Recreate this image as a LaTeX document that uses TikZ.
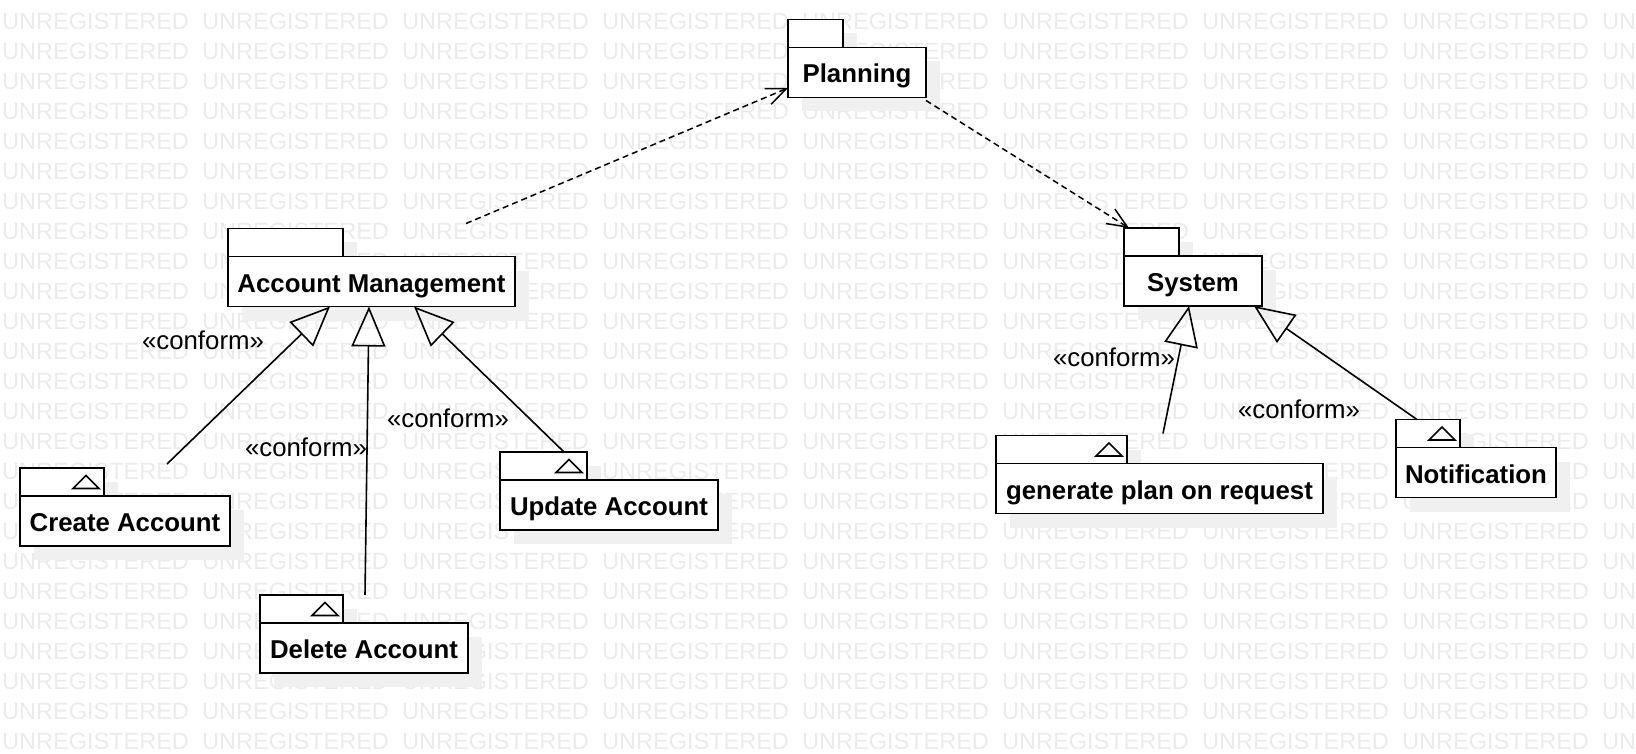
\documentclass[tikz,border=0pt]{standalone}
\usepackage{fontspec}
\setmainfont{Liberation Sans}
\usetikzlibrary{positioning, arrows.meta, calc, backgrounds}

\begin{document}
\begin{tikzpicture}[
    x=1pt, y=-1pt,
    pkg/.style={draw=black, line width=1.8pt, rectangle, fill=white, inner sep=0pt, outer sep=0pt, minimum height=50pt, text height=26pt, text depth=5pt, font=\fontsize{25.8}{30}\selectfont\bfseries},
    pkgtab/.style={draw=black, line width=1.8pt, rectangle, fill=white, inner sep=0pt, outer sep=0pt, minimum height=28pt, anchor=south west},
    tabmark/.style={draw=black, line width=1.6pt, line join=miter},
    realize/.style={line width=1.6pt, -{Triangle[open, length=40pt, width=34pt, line width=1.6pt]}},
    depend/.style={line width=1.5pt, dash pattern=on 6pt off 4pt, -{Straight Barb[length=20pt, width=17pt, line width=1.5pt]}},
    conflabel/.style={font=\fontsize{25.8}{30}\selectfont},
    wmark/.style={text=black!8, font=\fontsize{23.5}{28}\selectfont, anchor=west, inner sep=0pt},
    shade/.style={fill=black!6}
]
\useasboundingbox (0,0) rectangle (1636,754);

% Pakete
\node[pkg, minimum width=138pt] (plan) at (857,72.5) {Planning};
\node[pkgtab, minimum width=55pt] (plan-tab) at (plan.north west) {};
\node[pkg, minimum width=287pt] (am) at (371.5,281.5) {Account Management};
\node[pkgtab, minimum width=115pt] (am-tab) at (am.north west) {};
\node[pkg, minimum width=138pt] (sys) at (1193,281) {System};
\node[pkgtab, minimum width=55pt] (sys-tab) at (sys.north west) {};

% Unterpakete
\node[pkg, minimum width=210pt] (create) at (125,521) {Create Account};
\node[pkgtab, minimum width=84pt] (create-tab) at (create.north west) {};
\node[pkg, minimum width=208pt] (delete) at (364,648) {Delete Account};
\node[pkgtab, minimum width=83pt] (delete-tab) at (delete.north west) {};
\node[pkg, minimum width=218pt] (update) at (609,505) {Update Account};
\node[pkgtab, minimum width=87pt] (update-tab) at (update.north west) {};
\node[pkg, minimum width=327pt] (plan-req) at (1159.5,488.5) {generate plan on request};
\node[pkgtab, minimum width=131pt] (plan-req-tab) at (plan-req.north west) {};
\node[pkg, minimum width=160pt] (notif) at (1476,472.5) {Notification};
\node[pkgtab, minimum width=64pt] (notif-tab) at (notif.north west) {};

\foreach \t in {create-tab, delete-tab, update-tab, plan-req-tab, notif-tab}
    \draw[tabmark] ([xshift=-31pt,yshift=-6.5pt]\t.east) -- ([xshift=-5pt,yshift=-6.5pt]\t.east) -- ([xshift=-18pt,yshift=6.5pt]\t.east) -- cycle;

% Hintergrund
\begin{scope}[on background layer]
    \foreach \r in {-1,...,24}
        \foreach \c in {0,...,8}
            \node[wmark] (wm-\r-\c) at (\c*200+2, \r*30+21) {UNREGISTERED};
    \foreach \n in {plan, plan-tab, am, am-tab, sys, sys-tab, create, create-tab, delete, delete-tab, update, update-tab, plan-req, plan-req-tab, notif, notif-tab}
        \fill[shade] ([xshift=14pt,yshift=-14pt]\n.south west) rectangle ([xshift=14pt,yshift=-14pt]\n.north east);
\end{scope}

% Abhaengigkeiten
\draw[depend] ([xshift=94.5pt,yshift=33pt]am.north) -- ([yshift=-15.5pt]plan.west);
\draw[depend] ([yshift=-3pt]plan.south east) -- ([xshift=5pt]sys-tab.north west);

% Realisierungen
\draw[realize] ([xshift=63pt,yshift=4pt]create-tab.north east) -- ([xshift=-41.5pt]am.south);
\draw[realize] ([xshift=22pt]delete-tab.north east) -- ([xshift=-2.5pt]am.south);
\draw[realize] ([xshift=64pt]update-tab.north west) -- ([xshift=42.5pt]am.south);
\draw[realize] ([xshift=36pt,yshift=2pt]plan-req-tab.north east) -- ([xshift=-4pt]sys.south);
\draw[realize] ([xshift=21pt]notif-tab.north west) -- ([xshift=61pt]sys.south);

% Beschriftungen
\node[conflabel] (lab-create) at (203,340) {«conform»};
\node[conflabel] (lab-delete) at (306,447) {«conform»};
\node[conflabel] (lab-update) at (448,418) {«conform»};
\node[conflabel] (lab-plan-req) at (1114,357) {«conform»};
\node[conflabel] (lab-notif) at (1299,409) {«conform»};

\end{tikzpicture}
\end{document}
